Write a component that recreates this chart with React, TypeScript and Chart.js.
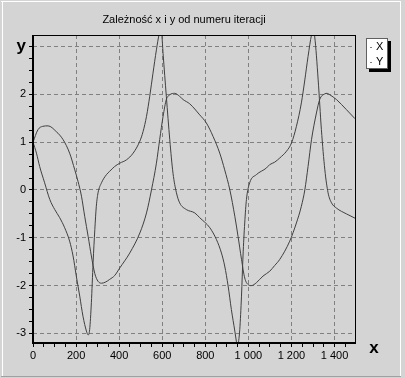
import React, { useEffect, useRef } from 'react';
import { Chart, registerables } from 'chart.js';

Chart.register(...registerables);

const chartTitle = 'Zależność x i y od numeru iteracji';
const seriesNames = ['X', 'Y'];
const xAxisName = 'x';
const yAxisName = 'y';

// X series (smooth, extremes about ±2)
const xSteps = [0, 23, 45, 70, 108, 140, 170, 194, 209, 225, 240, 256, 271, 287, 302, 318, 335, 356, 379, 403, 449, 496, 527, 550, 573, 588, 604, 619, 635, 658, 680, 697, 728, 774, 805, 836, 867, 890, 914, 937, 952, 968, 983, 999, 1014, 1037, 1068, 1099, 1122, 1146, 1192, 1223, 1246, 1262, 1277, 1293, 1316, 1331, 1355, 1366, 1378, 1409, 1455, 1495];
const xValues = [1.0, 1.26, 1.33, 1.34, 1.22, 1.05, 0.77, 0.42, 0.18, -0.13, -0.55, -0.97, -1.38, -1.75, -1.91, -1.95, -1.93, -1.87, -1.79, -1.63, -1.32, -0.9, -0.48, 0.0, 0.56, 1.05, 1.54, 1.89, 1.99, 2.02, 1.96, 1.89, 1.8, 1.57, 1.4, 1.12, 0.77, 0.42, 0.0, -0.55, -0.97, -1.45, -1.84, -1.98, -2.0, -1.94, -1.8, -1.7, -1.58, -1.45, -1.07, -0.69, -0.34, 0.0, 0.49, 1.05, 1.61, 1.89, 2.01, 2.02, 1.99, 1.89, 1.68, 1.49];

// Y series (spiky)
const ySteps = [0, 16, 31, 54, 78, 101, 124, 147, 170, 186, 201, 217, 232, 248, 256, 263, 271, 279, 287, 294, 302, 318, 341, 356, 379, 403, 434, 465, 496, 511, 527, 542, 557, 573, 585, 592, 598, 604, 619, 635, 650, 666, 681, 712, 751, 774, 821, 852, 875, 890, 906, 921, 937, 944, 949, 955, 960, 968, 975, 983, 991, 1006, 1037, 1084, 1099, 1122, 1146, 1177, 1200, 1223, 1246, 1262, 1277, 1293, 1300, 1308, 1324, 1339, 1355, 1370, 1386, 1409, 1455, 1495];
const yValues = [1.0, 0.77, 0.49, 0.15, -0.2, -0.41, -0.58, -0.79, -1.07, -1.38, -1.8, -2.22, -2.64, -2.95, -3.03, -2.92, -2.36, -1.52, -0.83, -0.34, -0.06, 0.15, 0.32, 0.39, 0.49, 0.56, 0.63, 0.77, 1.02, 1.22, 1.54, 1.96, 2.44, 2.93, 3.24, 3.32, 3.24, 2.85, 1.96, 1.05, 0.35, -0.06, -0.27, -0.41, -0.48, -0.58, -0.79, -1.04, -1.32, -1.59, -2.01, -2.5, -2.95, -3.16, -3.3, -3.15, -2.92, -2.22, -1.38, -0.69, -0.2, 0.15, 0.32, 0.46, 0.53, 0.58, 0.67, 0.81, 0.98, 1.33, 1.82, 2.3, 2.79, 3.24, 3.33, 3.2, 2.3, 1.26, 0.42, -0.06, -0.27, -0.38, -0.5, -0.59];

const xMajorTicks = [0, 200, 400, 600, 800, 1000, 1200, 1400];
const yMajorTicks = [-3, -2, -1, 0, 1, 2, 3];

const FONT = 'Liberation Sans, Arial, sans-serif';
const BG = '#d4d4d4';
const LINE = '#404040';

function fmtThousands(v: number): string {
  if (v >= 1000) {
    const th = Math.floor(v / 1000);
    const rest = String(v % 1000).padStart(3, '0');
    return th + ' ' + rest;
  }
  return String(v);
}

const decorPlugin = {
  id: 'decor',
  beforeDraw(chart: any) {
    const { ctx, width, height } = chart;
    ctx.save();
    ctx.fillStyle = BG;
    ctx.fillRect(0, 0, width, height);
    ctx.lineWidth = 1;
    ctx.strokeStyle = '#ffffff';
    ctx.beginPath();
    ctx.moveTo(1, 1.5); ctx.lineTo(401, 1.5);
    ctx.moveTo(2.5, 1); ctx.lineTo(2.5, 376);
    ctx.moveTo(400.5, 1); ctx.lineTo(400.5, 376);
    ctx.stroke();
    ctx.strokeStyle = '#a0a0a0';
    ctx.beginPath();
    ctx.moveTo(1, 376.5); ctx.lineTo(401, 376.5);
    ctx.stroke();
    ctx.restore();
  },
  afterDraw(chart: any) {
    const { ctx, chartArea } = chart;
    const { left, right, top, bottom } = chartArea;
    ctx.save();
    // frame
    ctx.strokeStyle = '#000';
    ctx.lineWidth = 1;
    ctx.beginPath();
    ctx.moveTo(left, top + 0.5); ctx.lineTo(right + 1, top + 0.5);
    ctx.moveTo(right + 0.5, top); ctx.lineTo(right + 0.5, bottom);
    ctx.stroke();
    ctx.lineWidth = 2;
    ctx.beginPath();
    ctx.moveTo(left, top); ctx.lineTo(left, bottom + 1);
    ctx.moveTo(left - 1, bottom); ctx.lineTo(right + 1, bottom);
    ctx.stroke();

    // title
    ctx.fillStyle = '#000';
    ctx.font = '11px ' + FONT;
    ctx.textAlign = 'center';
    ctx.textBaseline = 'middle';
    ctx.fillText(chartTitle, 184, 20);

    // x axis name
    ctx.font = 'bold 17px ' + FONT;
    ctx.textAlign = 'center';
    ctx.fillText(xAxisName, 374, 348);

    // legend
    const bx = 366, by = 38, bw = 22, bh = 31;
    ctx.fillStyle = '#000';
    ctx.fillRect(bx + 3, by + 3, bw, bh);
    ctx.fillStyle = '#fff';
    ctx.fillRect(bx, by, bw, bh);
    ctx.strokeStyle = '#606060';
    ctx.lineWidth = 1;
    ctx.strokeRect(bx + 0.5, by + 0.5, bw - 1, bh - 1);
    ctx.font = '11px ' + FONT;
    ctx.textAlign = 'left';
    ctx.textBaseline = 'middle';
    chart.data.datasets.forEach((ds: any, i: number) => {
      const ty = by + 9 + i * 15;
      ctx.strokeStyle = '#808080';
      ctx.beginPath();
      ctx.moveTo(bx + 4, ty + 0.5); ctx.lineTo(bx + 6, ty + 0.5);
      ctx.stroke();
      ctx.fillStyle = '#000';
      ctx.fillText(ds.label, bx + 10, ty);
    });
    ctx.restore();
  },
};

export default function App() {
  const ref = useRef<HTMLCanvasElement | null>(null);
  useEffect(() => {
    document.body.style.margin = '0';
    const canvas = ref.current;
    if (!canvas) return;
    const chart = new Chart(canvas, {
      type: 'line',
      data: {
        datasets: [
          {
            label: seriesNames[0],
            data: xSteps.map((t, i) => ({ x: t, y: xValues[i] })),
            borderColor: LINE,
            borderWidth: 1,
            pointRadius: 0,
            cubicInterpolationMode: 'monotone',
            fill: false,
          },
          {
            label: seriesNames[1],
            data: ySteps.map((t, i) => ({ x: t, y: yValues[i] })),
            borderColor: LINE,
            borderWidth: 1,
            pointRadius: 0,
            cubicInterpolationMode: 'monotone',
            fill: false,
          },
        ],
      },
      options: {
        responsive: false,
        animation: false,
        devicePixelRatio: 1,
        events: [],
        layout: { padding: { left: 0, top: 35, right: 50, bottom: 0 } },
        plugins: {
          legend: { display: false },
          title: { display: false },
          tooltip: { enabled: false },
        },
        scales: {
          x: {
            type: 'linear',
            min: 0,
            max: 1495,
            afterBuildTicks: (scale: any) => {
              const t = [];
              for (let v = 0; v <= 1450; v += 50) t.push({ value: v });
              scale.ticks = t;
            },
            afterFit: (scale: any) => { scale.height = 35; },
            ticks: {
              autoSkip: false,
              maxRotation: 0,
              padding: 2,
              color: '#000',
              font: { family: FONT, size: 11 },
              callback: (v: any) => (xMajorTicks.includes(v) ? fmtThousands(v) : ''),
            },
            grid: {
              color: (c: any) => (c.tick && xMajorTicks.includes(c.tick.value) ? '#808080' : 'rgba(0,0,0,0)'),
              tickColor: '#000',
              tickLength: 4,
              lineWidth: 1,
            },
            border: { display: false, dash: [4, 3] },
          },
          y: {
            type: 'linear',
            min: -3.2,
            max: 3.24,
            afterBuildTicks: (scale: any) => {
              const t = [];
              for (let i = 0; i <= 24; i++) t.push({ value: -3 + i * 0.25 });
              scale.ticks = t;
            },
            afterFit: (scale: any) => { scale.width = 33; },
            ticks: {
              autoSkip: false,
              padding: 3,
              color: '#000',
              font: (c: any) =>
                c.tick && c.tick.value === 3
                  ? { family: FONT, size: 17, weight: 'bold' }
                  : { family: FONT, size: 11 },
              callback: (v: any) => {
                if (!yMajorTicks.includes(v)) return '';
                return v === 3 ? yAxisName : String(v);
              },
            },
            grid: {
              color: (c: any) => (c.tick && yMajorTicks.includes(c.tick.value) ? '#808080' : 'rgba(0,0,0,0)'),
              tickColor: '#000',
              tickLength: 4,
              lineWidth: 1,
            },
            border: { display: false, dash: [4, 3] },
          },
        },
      },
      plugins: [decorPlugin],
    } as any);
    return () => chart.destroy();
  }, []);
  return <canvas ref={ref} width={405} height={378} style={{ display: 'block' }} />;
}
